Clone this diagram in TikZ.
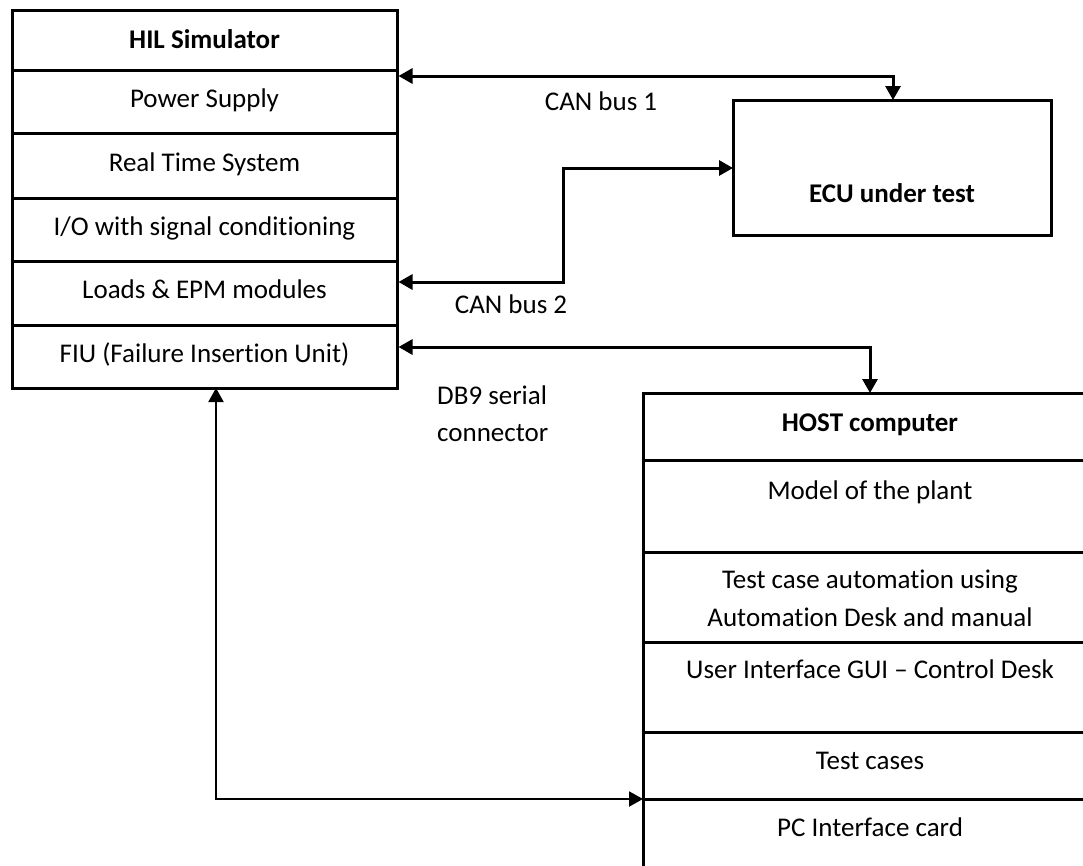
\documentclass[tikz,border=0pt]{standalone}
\usepackage{fontspec}
\setmainfont{Carlito}[Ligatures=NoCommon]
\usetikzlibrary{arrows.meta}
\begin{document}
\begin{tikzpicture}[x=1pt,y=-1pt,
  boxline/.style={draw=black,line width=3pt},
  divline/.style={draw=black,line width=3pt},
  lbl/.style={font=\fontsize{27}{32}\selectfont,anchor=base,inner sep=0pt},
  blbl/.style={font=\fontsize{27}{32}\selectfont\bfseries,anchor=base,inner sep=0pt},
  conn/.style={draw=black,line width=3pt,{Triangle[length=14pt,width=15pt]}-{Triangle[length=14pt,width=15pt]}},
  thinconn/.style={draw=black,line width=2pt,{Triangle[length=14pt,width=15pt]}-{Triangle[length=14pt,width=15pt]}}
]
\useasboundingbox (0,0) rectangle (1083,865);
\clip (0,0) rectangle (1083,865);
\fill[white] (0,0) rectangle (1083,865);

% HIL simulator
\node[boxline,minimum width=385pt,minimum height=378pt,inner sep=0pt] (hil) at (204.5,199) {};
\draw[divline] (12,70) -- (397,70);
\draw[divline] (12,133) -- (397,133);
\draw[divline] (12,198) -- (397,198);
\draw[divline] (12,261) -- (397,261);
\draw[divline] (12,325) -- (397,325);
\node[blbl] (hilt) at (204.5,48) {HIL Simulator};
\node[lbl] (ps) at (204.5,107) {Power Supply};
\node[lbl] (rts) at (204.5,171) {Real Time System};
\node[lbl] (io) at (204.5,235) {I/O with signal conditioning};
\node[lbl] (loads) at (204.5,298) {Loads \& EPM modules};
\node[lbl] (fiu) at (204.5,362) {FIU (Failure Insertion Unit)};

% ECU
\node[boxline,minimum width=318pt,minimum height=135pt,inner sep=0pt] (ecu) at (892,167.5) {};
\node[blbl] (ecut) at (892,202) {ECU under test};

% HOST computer (extends beyond the picture)
\node[boxline,minimum width=454pt,minimum height=520pt,inner sep=0pt] (host) at (870,653) {};
\draw[divline] (643,460) -- (1100,460);
\draw[divline] (643,552) -- (1100,552);
\draw[divline] (643,642) -- (1100,642);
\draw[divline] (643,732) -- (1100,732);
\draw[divline] (643,799) -- (1100,799);
\node[blbl] (hostt) at (870,431) {HOST computer};
\node[lbl] (model) at (870,499) {Model of the plant};
\node[lbl] (tca1) at (870,588) {Test case automation using};
\node[lbl] (tca2) at (870,626) {Automation Desk and manual};
\node[lbl] (ui) at (870,678) {User Interface GUI – Control Desk};
\node[lbl] (tc) at (870,769) {Test cases};
\node[lbl] (pci) at (870,836) {PC Interface card};

% connector labels
\node[lbl] (can1) at (601,110) {CAN bus 1};
\node[lbl] (can2) at (511,313) {CAN bus 2};
\node[lbl,anchor=base west] (db9a) at (437,404) {DB9 serial};
\node[lbl,anchor=base west] (db9b) at (437,441) {connector};

% connector points
\coordinate (h1) at (hil.east |- 0,76);
\coordinate (h2) at (hil.east |- 0,282);
\coordinate (h3) at (hil.east |- 0,347);
\coordinate (hb) at (216,388);
\coordinate (e1) at (893,100);
\coordinate (e2) at (733,168);
\coordinate (t1) at (870,393);
\coordinate (t2) at (643,799);

\draw[conn] (h1) -- (893,76) -- (e1);
\draw[conn] (h2) -- (563,282) -- (563,168) -- (e2);
\draw[conn] (h3) -- (870,347) -- (t1);
\draw[thinconn] (hb) -- (216,799) -- (t2);
\end{tikzpicture}
\end{document}
